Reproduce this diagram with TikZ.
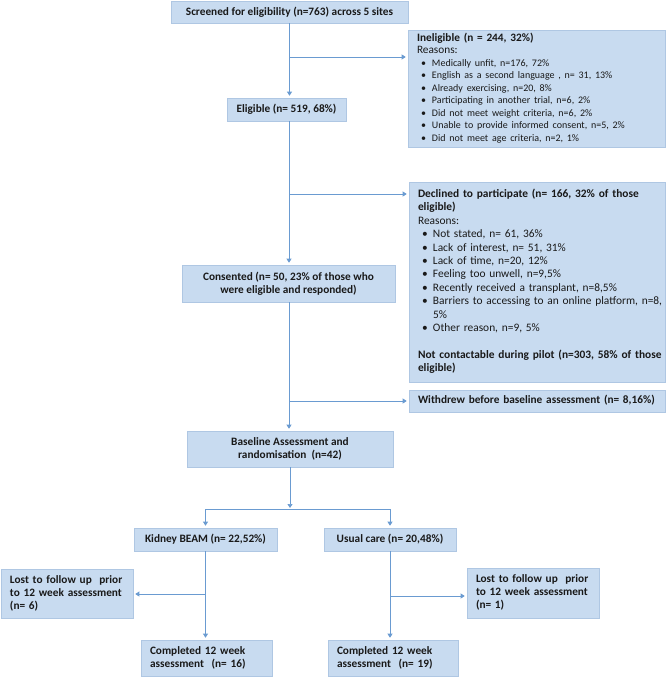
\documentclass[tikz,border=0pt]{standalone}
\usepackage{fontspec}
\setmainfont{Carlito}
\usetikzlibrary{arrows.meta}
\definecolor{boxfill}{HTML}{C8DBF0}
\definecolor{boxline}{HTML}{AFC7E3}
\definecolor{arr}{HTML}{6A9BD1}
\newcommand{\bul}{\hspace{4pt}\makebox[11pt][l]{\textbullet}}
\newcommand{\ibul}{\fontsize{10}{12.5}\selectfont\bul}
\newcommand{\boxlines}[1]{\begin{tabular}{@{\hspace{9pt}}l@{}}#1\end{tabular}}
\begin{document}
\begin{tikzpicture}[x=1pt,y=-1pt,
  box/.style={draw=boxline, fill=boxfill, line width=0.6pt, inner sep=0pt, text=black!90},
  ctr/.style={box, align=center, font=\fontsize{11.3}{13}\selectfont\bfseries},
  lft/.style={box, align=left, font=\fontsize{11.3}{13}\selectfont},
  link/.style={draw=arr, line width=0.7pt},
  arrow/.style={link, -{Triangle[length=4pt,width=5pt]}, shorten >=2pt}
]
\useasboundingbox (0,0) rectangle (669,677);

\node[ctr, minimum width=237pt, minimum height=22pt] (screen) at (289.5,12) {Screened for eligibility (n=763) across 5 sites};
\node[ctr, minimum width=119pt, minimum height=23pt] (elig) at (286.5,109.5) {Eligible (n= 519, 68\%)};
\node[lft, text width=257pt, minimum height=117pt, font=\fontsize{11.3}{12.5}\selectfont] (inel) at (536.5,88.5)
 {\boxlines{\textbf{Ineligible (n = 244, 32\%)}\\
  Reasons:\\
  \ibul Medically unfit, n=176, 72\%\\
  \ibul English as a second language , n= 31, 13\%\\
  \ibul Already exercising, n=20, 8\%\\
  \ibul Participating in another trial, n=6, 2\%\\
  \ibul Did not meet weight criteria, n=6, 2\%\\
  \ibul Unable to provide informed consent, n=5, 2\%\\
  \ibul Did not meet age criteria, n=2, 1\%}};
\node[lft, text width=256pt, minimum height=200pt, font=\fontsize{11.4}{13.4}\selectfont] (decl) at (537,282)
 {\boxlines{\textbf{Declined to participate (n= 166, 32\% of those}\\
  \textbf{eligible)}\\
  Reasons:\\
  \bul Not stated, n= 61, 36\%\\
  \bul Lack of interest, n= 51, 31\%\\
  \bul Lack of time, n=20, 12\%\\
  \bul Feeling too unwell, n=9,5\%\\
  \bul Recently received a transplant, n=8,5\%\\
  \bul Barriers to accessing to an online platform, n=8,\\
  \hspace{15pt}5\%\\
  \bul Other reason, n=9, 5\%\\[13.4pt]
  \textbf{Not contactable during pilot (n=303, 58\% of those}\\
  \textbf{eligible)}}};
\node[ctr, minimum width=213pt, minimum height=37pt] (cons) at (288.5,283.5) {Consented (n= 50, 23\% of those who\\were eligible and responded)};
\node[lft, text width=256pt, minimum height=22pt, font=\fontsize{11.3}{13}\selectfont\bfseries] (withd) at (537,401) {\boxlines{Withdrew before baseline assessment (n= 8,16\%)}};
\node[ctr, minimum width=206pt, minimum height=36pt] (base) at (290,449) {Baseline Assessment and\\randomisation~~(n=42)};
\node[ctr, minimum width=143pt, minimum height=23pt] (kid) at (205.5,539.5) {Kidney BEAM (n= 22,52\%)};
\node[ctr, minimum width=132pt, minimum height=23pt] (usual) at (390,539.5) {Usual care (n= 20,48\%)};
\node[lft, text width=132pt, minimum height=49pt, font=\fontsize{11.3}{13}\selectfont\bfseries] (lostL) at (67,593.5) {\boxlines{Lost to follow up~~prior\\to 12 week assessment\\(n= 6)}};
\node[lft, text width=132pt, minimum height=50pt, font=\fontsize{11.3}{13}\selectfont\bfseries] (lostR) at (533,593) {\boxlines{Lost to follow up~~prior\\to 12 week assessment\\(n= 1)}};
\node[lft, text width=131pt, minimum height=36pt, font=\fontsize{11.3}{13}\selectfont\bfseries] (compL) at (206.5,658) {\boxlines{Completed 12 week\\assessment~~(n= 16)}};
\node[lft, text width=130pt, minimum height=36pt, font=\fontsize{11.3}{13}\selectfont\bfseries] (compR) at (393,658) {\boxlines{Completed 12 week\\assessment~~(n= 19)}};

\coordinate (b1) at (289,57);
\coordinate (b2) at (289,194);
\coordinate (b3) at (289,401);
\coordinate (split) at (290,509);
\coordinate (b4) at (205.5,594);
\coordinate (b5) at (391,596);

\draw[arrow] (screen.south) -- (screen.south |- elig.north);
\draw[arrow] (b1) -- (b1 -| inel.west);
\draw[arrow] (b1 |- elig.south) -- (b1 |- cons.north);
\draw[arrow] (b2) -- (b2 -| decl.west);
\draw[arrow] (b1 |- cons.south) -- (b1 |- base.north);
\draw[arrow] (b3) -- (b3 -| withd.west);
\draw[arrow, shorten >=1pt] (base.south) -- (split);
\draw[link] (kid.north |- split) -- (usual.north |- split);
\draw[arrow] (kid.north |- split) -- (kid.north);
\draw[arrow] (usual.north |- split) -- (usual.north);
\draw[arrow] (kid.south) -- (kid.south |- compL.north);
\draw[arrow] (b4) -- (b4 -| lostL.east);
\draw[arrow] (usual.south) -- (usual.south |- compR.north);
\draw[arrow] (b5) -- (b5 -| lostR.west);
\end{tikzpicture}
\end{document}
